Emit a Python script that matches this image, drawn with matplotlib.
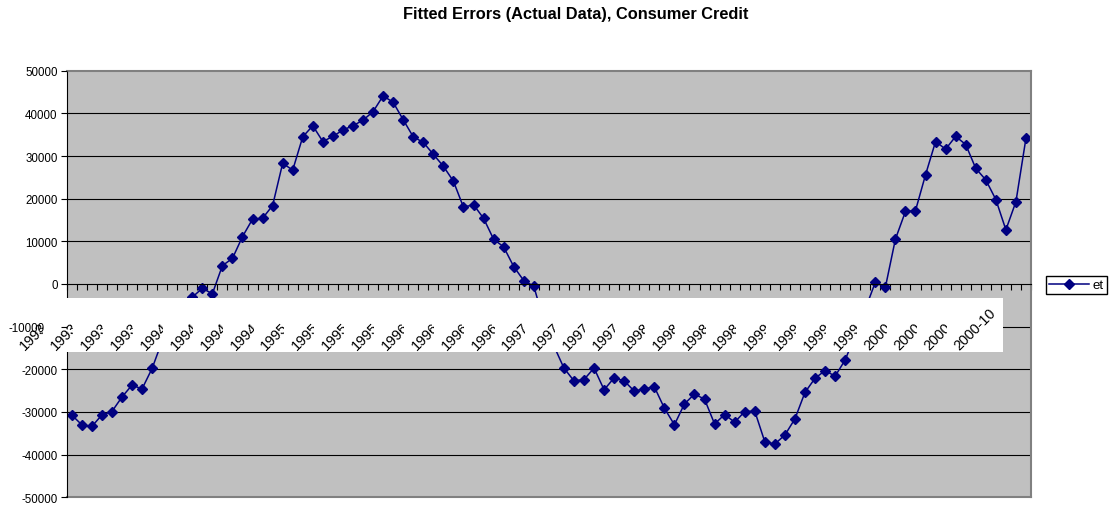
import numpy as np
import pandas as pd
import matplotlib
matplotlib.use("Agg")
import matplotlib.pyplot as plt
from matplotlib.patches import Rectangle
from matplotlib.transforms import Bbox, offset_copy, ScaledTranslation

plt.rcParams['font.family'] = ['Liberation Sans', 'DejaVu Sans']

# fitted errors, monthly 1993-01 .. 2000-12
et = [-30700, -33000, -33400, -30700, -29900, -26500, -23700, -24600, -19800, -13400,
      -8500, -5500, -3100, -1000, -2300, 4300, 6000, 11100, 15200, 15400,
      18400, 28300, 26700, 34500, 37100, 33400, 34600, 36100, 37100, 38400,
      40400, 44100, 42600, 38500, 34500, 33200, 30400, 27600, 24100, 18000,
      18600, 15400, 10500, 8700, 4100, 800, -500, -8700, -14500, -19700,
      -22700, -22400, -19700, -24800, -22000, -22700, -25100, -24600, -24100, -29100,
      -33000, -28100, -25800, -27000, -32800, -30600, -32400, -29900, -29800, -37000,
      -37500, -35400, -31600, -25400, -22100, -20300, -21600, -17800, -12000, -5900,
      400, -800, 10500, 17000, 17200, 25600, 33400, 31600, 34600, 32700,
      27100, 24400, 19800, 12700, 19300, 34200]
months = pd.period_range('1993-01', periods=len(et), freq='M').strftime('%Y-%m').tolist()
yticks = [-50000, -40000, -30000, -20000, -10000, 0, 10000, 20000, 30000, 40000, 50000]

W, H = 1117, 506
fig = plt.figure(figsize=(W / 100, H / 100), dpi=100)
ax = fig.add_axes([66.7 / W, 1 - 498.3 / H, (1031 - 66.7) / W, (498.3 - 71.7) / H])
ax.set_facecolor('#c0c0c0')

x = np.arange(len(et))
ax.set_xlim(-0.5, len(et) - 0.5)
ax.set_ylim(-50000, 50000)

# gridlines
for v in yticks[1:-1]:
    if v != 0:
        ax.axhline(v, color='black', lw=0.8, zorder=1)
ax.axhline(-50000, color='#808080', lw=1.5, zorder=1, clip_on=False)

ax.plot(x, et, color='#000080', lw=1.1, marker='D', ms=5.2, label='et', zorder=2)

# spines
ax.spines['bottom'].set_position(('data', 0))
ax.spines['bottom'].set_color('black')
ax.spines['left'].set_color('black')
for s in ['top', 'right']:
    ax.spines[s].set_color('#808080')
    ax.spines[s].set_linewidth(1.5)

ax.set_xticks(np.arange(len(et) + 1) - 0.5)
ax.set_xticklabels([])
ax.tick_params(axis='x', direction='out', length=4, width=0.8, color='black')
ax.set_yticks(yticks)
ax.set_yticklabels([str(v) for v in yticks])
ax.tick_params(axis='y', direction='out', length=4, width=0.8, labelsize=8.3, pad=2.5)
ax.yaxis.set_zorder(2.6)
for lab in ax.get_yticklabels():
    if lab.get_text() == '-10000':
        lab.set_transform(lab.get_transform() + ScaledTranslation(-0.13, 0, fig.dpi_scale_trans))

# white band behind the category labels
ax.add_patch(Rectangle((0, 1 - 353 / H), 1003 / W, 54 / H, transform=fig.transFigure,
                       facecolor='white', edgecolor='none', zorder=2.55, clip_on=False))

tr = offset_copy(ax.transData, fig=fig, x=-7, y=-21, units='dots')
labels = []
for i in range(0, len(et), 3):
    t = ax.text(i, 0, months[i], transform=tr, rotation=45, ha='right', va='top',
                fontsize=10.4, zorder=3, clip_on=False)
    labels.append(t)

ax.legend(loc='center left', bbox_to_anchor=(1046 / W, 1 - 286 / H), bbox_transform=fig.transFigure,
          fancybox=False, edgecolor='black', framealpha=1, fontsize=9.5, handlelength=3.0,
          borderpad=0.25, handletextpad=0.3, borderaxespad=0)

fig.text(576 / W, 1 - 14 / H, 'Fitted Errors (Actual Data), Consumer Credit', ha='center', va='center',
         fontsize=11.8, fontweight='bold')

# each label is cut where the next one starts
fig.canvas.draw()
r = fig.canvas.get_renderer()
ext = [t.get_window_extent(r) for t in labels]
for k in range(len(labels) - 1):
    b = ext[k]
    labels[k].set_clip_box(Bbox([[b.x0 - 50, b.y0 - 5], [ext[k + 1].x0 - 5, b.y1 + 5]]))
    labels[k].set_clip_on(True)

fig.savefig('out.png', dpi=100)
